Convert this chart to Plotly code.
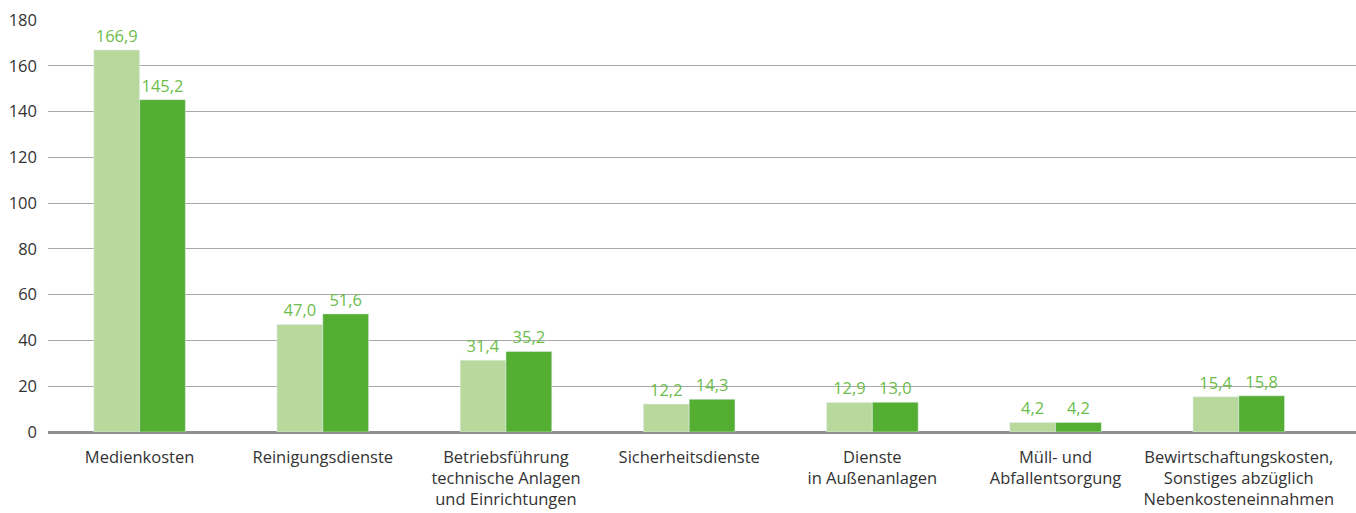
import plotly.graph_objects as go

categories = ["Medienkosten", "Reinigungsdienste", "Betriebsführung<br>technische Anlagen<br>und Einrichtungen",
              "Sicherheitsdienste", "Dienste<br>in Außenanlagen", "Müll- und<br>Abfallentsorgung",
              "Bewirtschaftungskosten,<br>Sonstiges abzüglich<br>Nebenkosteneinnahmen"]
series_a = [166.9, 47.0, 31.4, 12.2, 12.9, 4.2, 15.4]
series_b = [145.2, 51.6, 35.2, 14.3, 13.0, 4.2, 15.8]
tick_vals = [0, 20, 40, 60, 80, 100, 120, 140, 160, 180]

def fmt(v):
    return f"{v:.1f}".replace(".", ",")

x = list(range(len(categories)))
fig = go.Figure()
fig.add_trace(go.Bar(x=x, y=series_a, marker_color="#b9d99c", text=[fmt(v) for v in series_a],
                     textposition="outside", textfont=dict(color="#6cbd4c", size=16.5), cliponaxis=False))
fig.add_trace(go.Bar(x=x, y=series_b, marker_color="#54ae32", text=[fmt(v) for v in series_b],
                     textposition="outside", textfont=dict(color="#6cbd4c", size=16.5), cliponaxis=False))
fig.update_layout(
    width=1356, height=513, barmode="group", bargap=0.5, bargroupgap=0,
    margin=dict(l=48, r=0, t=20, b=81), showlegend=False,
    plot_bgcolor="white", paper_bgcolor="white",
    font=dict(family="Open Sans", size=16, color="#333333"),
)
fig.update_xaxes(tickmode="array", tickvals=x, ticktext=categories, range=[-0.5, 6.64],
                 showgrid=False, zeroline=False, showline=False, tickfont=dict(size=16.5, color="#333333"),
                 ticks="", ticklabelstandoff=13, automargin=False)
fig.update_yaxes(range=[0, 180], tickvals=tick_vals, showgrid=True, gridcolor="#a8a8a8", gridwidth=1,
                 zeroline=True, zerolinecolor="#909090", zerolinewidth=3, ticks="", ticklabelstandoff=10,
                 tickfont=dict(size=16.5, color="#333333"), automargin=False)
fig.write_html("out.html", config={"displayModeBar": False},
               post_script="document.body.style.margin='0';document.body.style.overflow='hidden';")
